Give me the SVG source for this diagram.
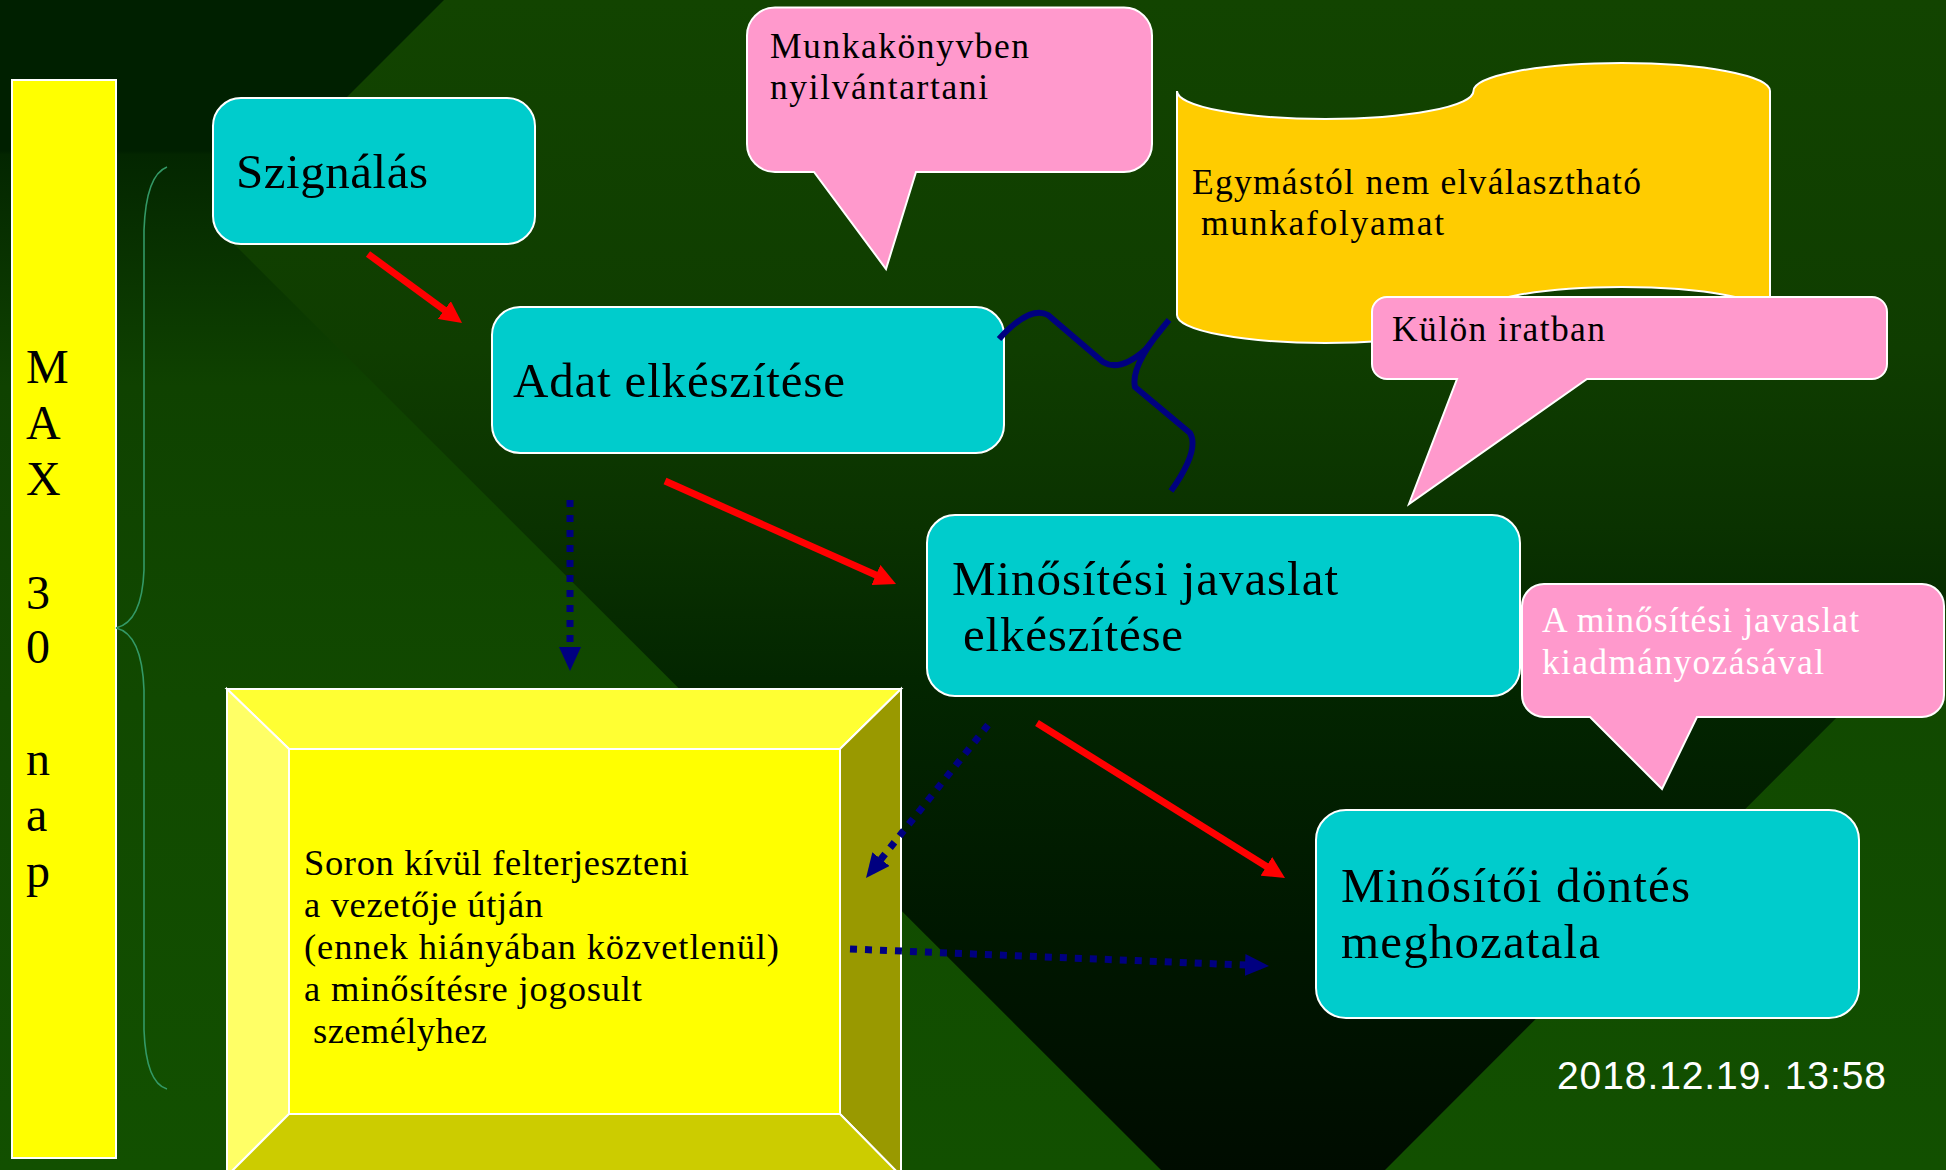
<svg xmlns="http://www.w3.org/2000/svg" width="1946" height="1170" viewBox="0 0 1946 1170">
<style>
.box{fill:#00CCCC;stroke:#FFFFFF;stroke-width:2}
.pink{fill:#FF99CC;stroke:#FFFFFF;stroke-width:2}
.t{font-family:"Liberation Serif","Times New Roman",serif;fill:#000000}
.big{font-size:49px}
.mid{font-size:35.5px}
.yel{font-size:36.5px}
.white{fill:#FFFFFF}
.red{stroke:#FF0000;stroke-width:7;fill:none;marker-end:url(#ahRed)}
.blue{stroke:#000080;stroke-width:7;stroke-dasharray:7 8;fill:none;marker-end:url(#ahBlue)}
.bev{stroke:#FFFFFF;stroke-width:2}
</style>
<defs>
<linearGradient id="gOut" gradientUnits="userSpaceOnUse" x1="0" y1="0" x2="0" y2="1170">
<stop offset="0" stop-color="#002000"/>
<stop offset="0.129" stop-color="#002000"/>
<stop offset="0.132" stop-color="#032600"/>
<stop offset="0.33" stop-color="#0F4200"/>
<stop offset="0.6" stop-color="#114900"/>
<stop offset="1" stop-color="#125000"/>
</linearGradient>
<linearGradient id="gV" gradientUnits="userSpaceOnUse" x1="0" y1="0" x2="0" y2="1170">
<stop offset="0" stop-color="#124400"/>
<stop offset="0.3" stop-color="#0F3D00"/>
<stop offset="0.45" stop-color="#0A3200"/>
<stop offset="0.58" stop-color="#032600"/>
<stop offset="0.8" stop-color="#001700"/>
<stop offset="1" stop-color="#000C00"/>
</linearGradient>
<marker id="ahRed" markerUnits="userSpaceOnUse" markerWidth="22" markerHeight="22" refX="14" refY="11" orient="auto">
<path d="M0,0 L22,11 L0,22 Z" fill="#FF0000"/>
</marker>
<marker id="ahBlue" markerUnits="userSpaceOnUse" markerWidth="24" markerHeight="22" refX="16" refY="11" orient="auto">
<path d="M0,0 L24,11 L0,22 Z" fill="#000080"/>
</marker>
</defs>

<g id="background">
<rect x="0" y="0" width="1946" height="1170" fill="url(#gOut)"/>
<polygon points="444,0 1946,0 1946,608 1385,1170 1161,1170 217,227" fill="url(#gV)"/>
</g>

<g id="max-bar">
<rect x="12" y="80" width="104" height="1078" fill="#FFFF00" stroke="#FFFFFF" stroke-width="2"/>
<text class="t" font-size="48" x="26" y="383">M<tspan x="26" dy="56">A</tspan><tspan x="26" dy="56">X</tspan><tspan x="26" dy="114">3</tspan><tspan x="26" dy="54">0</tspan><tspan x="26" dy="112">n</tspan><tspan x="26" dy="56">a</tspan><tspan x="26" dy="56">p</tspan></text>
</g>

<g id="brace">
<path d="M167,167 Q146,175 144,230 L144,570 Q142,622 116,628 Q142,634 144,690 L144,1030 Q146,1083 167,1089" fill="none" stroke="#339966" stroke-width="1.6"/>
</g>

<g id="node-szignalas">
<rect class="box" x="213" y="98" width="322" height="146" rx="28" ry="28"/>
<text class="t big" x="236" y="188" textLength="192">Szignálás</text>
</g>

<g id="node-adat">
<rect class="box" x="492" y="307" width="512" height="146" rx="28" ry="28"/>
<text class="t big" x="513" y="397" textLength="332">Adat elkészítése</text>
</g>

<g id="node-minositesi-javaslat">
<rect class="box" x="927" y="515" width="593" height="181" rx="28" ry="28"/>
<text class="t big" x="952" y="595" textLength="386">Minősítési javaslat</text>
<text class="t big" x="963" y="651" textLength="220">elkészítése</text>
</g>

<g id="node-minositoi-dontes">
<rect class="box" x="1316" y="810" width="543" height="208" rx="30" ry="30"/>
<text class="t big" x="1341" y="902" textLength="349">Minősítői döntés</text>
<text class="t big" x="1341" y="958" textLength="259">meghozatala</text>
</g>

<g id="node-munkakonyv">
<path class="pink" d="M775,7.5 H1124 A28,28 0 0 1 1152,35.5 V144 A28,28 0 0 1 1124,172 H916 L886,269 L814,172 H775 A28,28 0 0 1 747,144 V35.5 A28,28 0 0 1 775,7.5 Z"/>
<text class="t mid" x="770" y="58" textLength="259">Munkakönyvben</text>
<text class="t mid" x="770" y="99" textLength="218">nyilvántartani</text>
</g>

<g id="node-munkafolyamat">
<path d="M1177,91 A148.25,28 0 0 0 1473.5,91 A148.25,28 0 0 1 1770,91 L1770,315 A148.25,28 0 0 0 1473.5,315 A148.25,28 0 0 1 1177,315 Z" fill="#FFCC00" stroke="#FFFFFF" stroke-width="2"/>
<text class="t mid" x="1192" y="194" textLength="449">Egymástól nem elválasztható</text>
<text class="t mid" x="1201" y="235" textLength="243">munkafolyamat</text>
</g>

<g id="node-kulon-iratban">
<path class="pink" d="M1387,297 H1872 A15,15 0 0 1 1887,312 V364 A15,15 0 0 1 1872,379 H1587 L1409,504 L1457,379 H1387 A15,15 0 0 1 1372,364 V312 A15,15 0 0 1 1387,297 Z"/>
<text class="t mid" x="1392" y="341" textLength="213">Külön iratban</text>
</g>

<g id="node-kiadmanyozas">
<path class="pink" d="M1544,584 H1922 A22,22 0 0 1 1944,606 V695 A22,22 0 0 1 1922,717 H1697 L1662,789 L1590,717 H1544 A22,22 0 0 1 1522,695 V606 A22,22 0 0 1 1544,584 Z"/>
<text class="t mid white" x="1542" y="632" textLength="317">A minősítési javaslat</text>
<text class="t mid white" x="1542" y="674" textLength="282">kiadmányozásával</text>
</g>

<g id="node-felterjesztes">
<polygon class="bev" points="227,689 901,689 840,749 289,749" fill="#FFFF33"/>
<polygon class="bev" points="227,689 289,749 289,1114 227,1176" fill="#FFFF66"/>
<polygon class="bev" points="901,689 901,1176 840,1114 840,749" fill="#999900"/>
<polygon class="bev" points="289,1114 840,1114 901,1176 227,1176" fill="#CCCC00"/>
<rect class="bev" x="289" y="749" width="551" height="365" fill="#FFFF00"/>
<text class="t yel" x="304" y="875" textLength="385">Soron kívül felterjeszteni</text>
<text class="t yel" x="304" y="917" textLength="239">a vezetője útján</text>
<text class="t yel" x="304" y="959" textLength="475">(ennek hiányában közvetlenül)</text>
<text class="t yel" x="304" y="1001" textLength="338">a minősítésre jogosult</text>
<text class="t yel" x="313" y="1043" textLength="174">személyhez</text>
</g>

<g id="connectors">
<line class="red" x1="368" y1="254" x2="455.6" y2="318.3"/>
<line class="red" x1="665" y1="481" x2="888.7" y2="580.7"/>
<line class="red" x1="1037" y1="723" x2="1278.2" y2="873.8"/>
<line class="blue" x1="570" y1="500" x2="570" y2="663"/>
<line class="blue" x1="988" y1="725" x2="871" y2="871.7"/>
<line class="blue" x1="850" y1="949" x2="1261" y2="965.7"/>
<path d="M999,339 Q1030,305 1048,315 L1103,362 Q1120,372 1145,350 L1169,320 M1169,320 Q1130,365 1135,387 L1190,433 Q1200,450 1171,491" fill="none" stroke="#000080" stroke-width="6" stroke-linejoin="round"/>
</g>

<g id="date">
<text x="1557" y="1089" font-family="'Liberation Sans',Arial,sans-serif" font-size="39" fill="#FFFFFF" textLength="329">2018.12.19. 13:58</text>
</g>
</svg>
